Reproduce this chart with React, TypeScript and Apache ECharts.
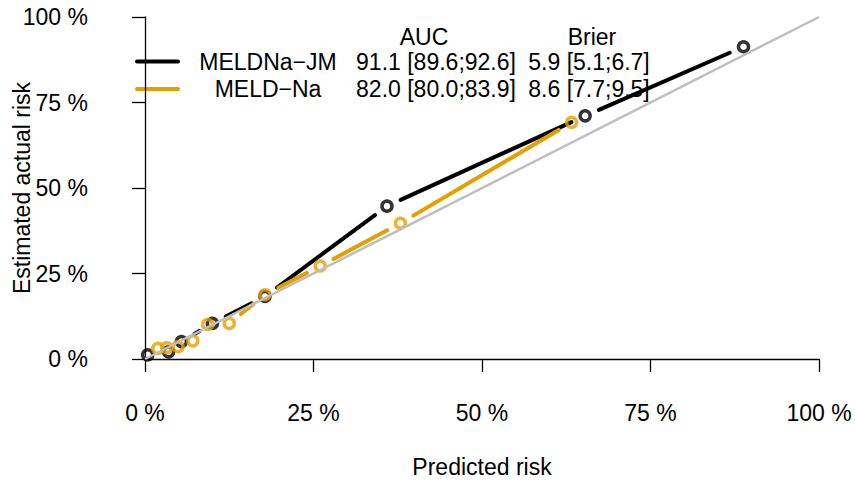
import React, { useEffect, useRef } from "react";
import * as echarts from "echarts";

// Calibration points (predicted risk, estimated actual risk)
const jmX = [0.004, 0.035, 0.054, 0.1, 0.178, 0.359, 0.653, 0.888];
const jmY = [0.012, 0.021, 0.051, 0.104, 0.183, 0.447, 0.711, 0.913];
const naX = [0.019, 0.032, 0.049, 0.071, 0.093, 0.125, 0.178, 0.26, 0.379, 0.633];
const naY = [0.031, 0.033, 0.036, 0.053, 0.101, 0.104, 0.188, 0.272, 0.397, 0.692];
const diagX = [0, 1];
const diagY = [0, 1];
const axisTicks = [0, 0.25, 0.5, 0.75, 1];
const xTitle = "Predicted risk";
const yTitle = "Estimated actual risk";
const modelNames = ["MELDNa\u2212JM", "MELD\u2212Na"];
const aucHeader = "AUC";
const brierHeader = "Brier";
const aucValues = ["91.1 [89.6;92.6]", "82.0 [80.0;83.9]"];
const brierValues = ["5.9 [5.1;6.7]", "8.6 [7.7;9.5]"];
const colors = ["#000000", "#E69F00"];

const FONT = "'Liberation Sans', Arial, Helvetica, sans-serif";
const FS = 23;

function segments(xs: number[], ys: number[]) {
  return xs.slice(0, -1).map((x, i) => [x, ys[i], xs[i + 1], ys[i + 1]]);
}

function gapLineSeries(xs: number[], ys: number[], color: string) {
  const GAP = 15;
  return {
    type: "custom",
    silent: true,
    data: segments(xs, ys),
    encode: { x: [0, 2], y: [1, 3] },
    renderItem: (_params: any, api: any) => {
      const a = api.coord([api.value(0), api.value(1)]);
      const b = api.coord([api.value(2), api.value(3)]);
      const dx = b[0] - a[0];
      const dy = b[1] - a[1];
      const len = Math.hypot(dx, dy);
      if (len <= 2 * GAP) return null;
      const ux = dx / len;
      const uy = dy / len;
      return {
        type: "line",
        shape: {
          x1: a[0] + ux * GAP,
          y1: a[1] + uy * GAP,
          x2: b[0] - ux * GAP,
          y2: b[1] - uy * GAP,
        },
        style: { stroke: color, lineWidth: 4, lineCap: "round" },
      };
    },
  };
}

function pointSeries(xs: number[], ys: number[], color: string) {
  return {
    type: "scatter",
    silent: true,
    data: xs.map((x, i) => [x, ys[i]]),
    symbol: "circle",
    symbolSize: 10,
    itemStyle: { color: "rgba(255,255,255,0)", borderColor: color, borderWidth: 3.5 },
  };
}

export default function App() {
  const ref = useRef<HTMLDivElement>(null);
  useEffect(() => {
    if (!ref.current) return;
    const chart = echarts.init(ref.current, null, { renderer: "svg" });
    const axisCommon = {
      type: "value",
      min: axisTicks[0],
      max: axisTicks[axisTicks.length - 1],
      interval: axisTicks[1] - axisTicks[0],
      splitLine: { show: false },
      axisLine: { show: true, lineStyle: { color: "#000", width: 1.3 } },
      axisTick: { show: true, inside: false, length: 13, lineStyle: { color: "#000", width: 1.3 } },
      axisLabel: {
        color: "#000",
        fontSize: FS,
        fontFamily: FONT,
        formatter: (v: number) => `${Math.round(v * 100)} %`,
      },
    };
    const textEl = (text: string, x: number, y: number, rotation = 0) => ({
      type: "text",
      x,
      y,
      rotation,
      style: {
        text,
        fill: "#000",
        font: `${FS}px ${FONT}`,
        align: "center",
        verticalAlign: "middle",
      },
    });
    const headerY = 37;
    const rowY = [61.5, 89];
    const graphic: any[] = [
      textEl(aucHeader, 424, headerY),
      textEl(brierHeader, 592, headerY),
      textEl(xTitle, 482, 467),
      textEl(yTitle, 22, 188, Math.PI / 2),
    ];
    modelNames.forEach((name, i) => {
      graphic.push({
        type: "line",
        shape: { x1: 137, y1: rowY[i], x2: 178, y2: rowY[i] },
        style: { stroke: colors[i], lineWidth: 4, lineCap: "round" },
      });
      graphic.push(textEl(name, 268, rowY[i]));
      graphic.push(textEl(aucValues[i], 436, rowY[i]));
      graphic.push(textEl(brierValues[i], 589, rowY[i]));
    });

    chart.setOption({
      animation: false,
      backgroundColor: "#ffffff",
      grid: {
        left: 145,
        right: 36,
        top: 17,
        bottom: 122,
        containLabel: false,
        outerBoundsMode: "none",
      },
      xAxis: {
        ...axisCommon,
        offset: 14,
        axisLabel: { ...axisCommon.axisLabel, margin: 28 },
      },
      yAxis: {
        ...axisCommon,
        offset: 28,
        axisLabel: { ...axisCommon.axisLabel, margin: 29 },
      },
      graphic,
      series: [
        {
          type: "line",
          silent: true,
          data: diagX.map((x, i) => [x, diagY[i]]),
          symbol: "none",
          lineStyle: { color: "#BEBEBE", width: 2.5 },
        },
        gapLineSeries(jmX, jmY, colors[0]),
        pointSeries(jmX, jmY, colors[0]),
        gapLineSeries(naX, naY, colors[1]),
        pointSeries(naX, naY, colors[1]),
      ],
    });
    return () => chart.dispose();
  }, []);
  return (
    <div
      ref={ref}
      style={{ position: "fixed", left: 0, top: 0, width: 855, height: 481, background: "#fff" }}
    />
  );
}
